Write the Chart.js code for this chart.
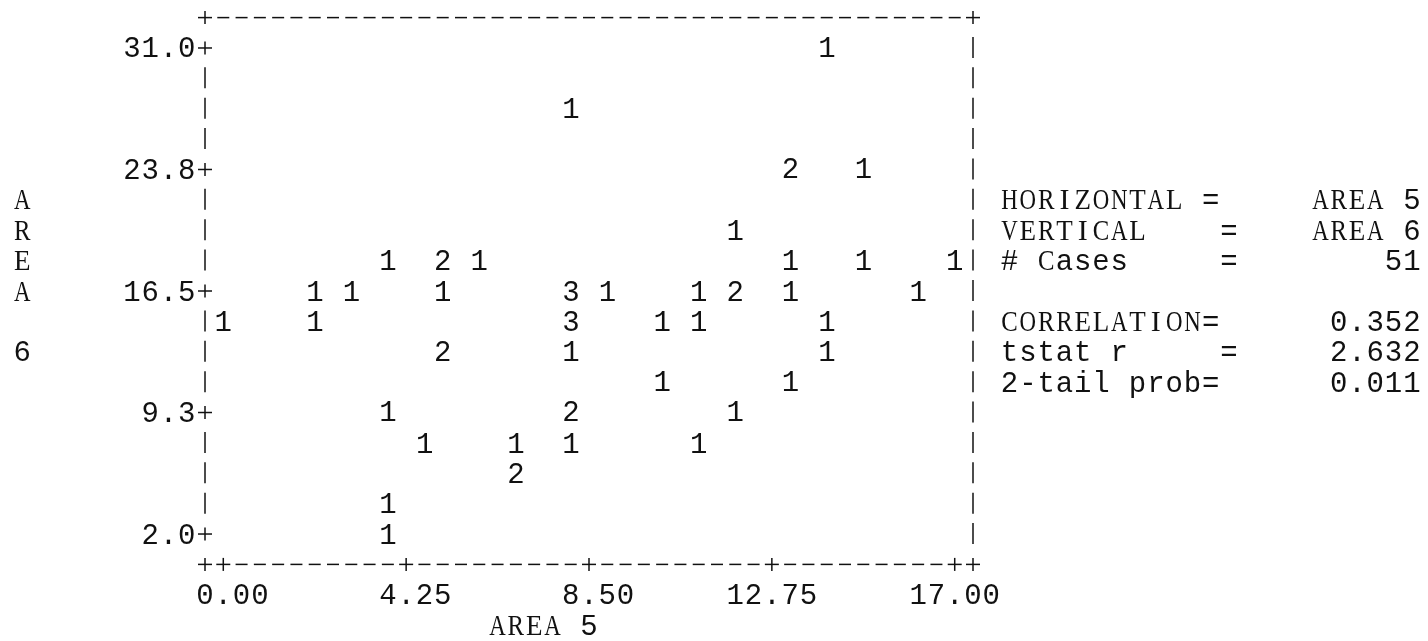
<!DOCTYPE html>
<html>
<head>
<meta charset="utf-8">
<script src="https://cdn.jsdelivr.net/npm/chart.js@4/dist/chart.umd.min.js"></script>
<style>
  html, body { margin: 0; padding: 0; background: #fff; }
  #wrap { width: 1428px; height: 641px; }
</style>
</head>
<body>
<div id="wrap"><canvas id="plot" width="1428" height="641"></canvas></div>
<script>
// one entry per printed cell: AREA 5, AREA 6 and the number of cases in that cell
const area5 = [14.03, 8.08, 13.18, 14.88, 11.9,
  3.83, 5.1, 5.95, 13.18, 14.88, 17.0,
  2.13, 2.98, 5.1, 8.08, 8.93, 11.05, 11.9, 13.18, 16.15,
  0.0, 2.13, 8.08, 10.2, 11.05, 14.03,
  5.1, 8.08, 14.03,
  10.2, 13.18,
  3.83, 8.08, 11.9,
  4.68, 6.8, 8.08, 11.05,
  6.8, 3.83, 3.83];
const area6 = [31.0, 27.4, 23.8, 23.8, 20.1,
  18.3, 18.3, 18.3, 18.3, 18.3, 18.3,
  16.5, 16.5, 16.5, 16.5, 16.5, 16.5, 16.5, 16.5, 16.5,
  14.7, 14.7, 14.7, 14.7, 14.7, 14.7,
  12.9, 12.9, 12.9,
  11.1, 11.1,
  9.3, 9.3, 9.3,
  7.4, 7.4, 7.4, 7.4,
  5.6, 3.8, 2.0];
const counts = [1, 1, 2, 1, 1,
  1, 2, 1, 1, 1, 1,
  1, 1, 1, 3, 1, 1, 2, 1, 1,
  1, 1, 3, 1, 1, 1,
  2, 1, 1,
  1, 1,
  1, 2, 1,
  1, 1, 1, 1,
  2, 1, 1];

const xTicks = [0, 4.25, 8.5, 12.75, 17];
const xTickLabels = ['0.00', '4.25', '8.50', '12.75', '17.00'];
const yTicks = [31, 23.75, 16.5, 9.25, 2];
const yTickLabels = ['31.0', '23.8', '16.5', '9.3', '2.0'];

const statLabels = ['HORIZONTAL =', 'VERTICAL    =', '# Cases     =', 'CORRELATION=', 'tstat r     =', '2-tail prob='];
const statValues = ['AREA 5', 'AREA 6', '51', '0.352', '2.632', '0.011'];

const xTitle = 'AREA 5';
const yTitle = 'AREA 6';

// the plot is a character grid: 40 columns across, 16 lines down
const xStep = 17 / 40;
const yStep = 29 / 16;
const ink = '#111';

// capitals in a serif face (like the old line printer), the rest monospaced
function glyph(ctx, ch, x, y) {
  if (ch === ' ') return;
  const serif = /[A-Z]/.test(ch);
  ctx.font = serif ? '30px "Liberation Serif"' : '29px "Liberation Mono"';
  const w = ctx.measureText(ch).width;
  if (serif && w > 16.5) {
    ctx.save();
    ctx.translate(x, y + 9.5);
    ctx.scale(16.5 / w, 1);
    ctx.fillText(ch, 0, 0);
    ctx.restore();
  } else {
    ctx.fillText(ch, x, y + 9.5);
  }
}

const asciiPlot = {
  id: 'asciiPlot',
  afterDraw(chart) {
    const ctx = chart.ctx;
    const sx = chart.scales.x, sy = chart.scales.y;
    const colX = c => sx.getPixelForValue((c - 1) * xStep);
    const rowY = r => sy.getPixelForValue(31 - (r - 1) * yStep);
    const text = (s, c, r) => { for (let i = 0; i < s.length; i++) glyph(ctx, s[i], colX(c + i), rowY(r)); };

    ctx.save();
    ctx.fillStyle = ink;
    ctx.strokeStyle = ink;
    ctx.lineWidth = 1.5;
    ctx.textAlign = 'center';
    ctx.textBaseline = 'alphabetic';

    const line = (x1, y1, x2, y2) => { ctx.beginPath(); ctx.moveTo(x1, y1); ctx.lineTo(x2, y2); ctx.stroke(); };
    const dash = (x, y) => line(x - 6, y, x + 6, y);
    const bar = (x, y) => line(x, y - 11, x, y + 10);
    const plus = (x, y) => { line(x - 7, y, x + 7, y); line(x, y - 6.5, x, y + 6.5); };

    // frame
    const xTickCols = xTicks.map(v => Math.round(v / xStep) + 1);
    const yTickRows = yTicks.map(v => Math.round((31 - v) / yStep) + 1);
    plus(colX(0), rowY(0));
    plus(colX(42), rowY(0));
    plus(colX(0), rowY(18));
    plus(colX(42), rowY(18));
    for (let c = 1; c <= 41; c++) {
      dash(colX(c), rowY(0));
      if (xTickCols.includes(c)) plus(colX(c), rowY(18));
      else dash(colX(c), rowY(18));
    }
    for (let r = 1; r <= 17; r++) {
      if (yTickRows.includes(r)) plus(colX(0), rowY(r));
      else bar(colX(0), rowY(r));
      bar(colX(42), rowY(r));
    }

    // tick labels
    yTicks.forEach((v, i) => {
      const s = yTickLabels[i];
      text(s, -s.length, yTickRows[i]);
    });
    xTicks.forEach((v, i) => {
      const s = xTickLabels[i];
      text(s, xTickCols[i] - s.indexOf('.'), 19);
    });

    // axis titles
    text(xTitle, 16, 20);
    const vt = yTitle.replace(' ', '');
    for (let i = 0; i < 4; i++) text(vt[i], -10, 6 + i);
    text(vt[4], -10, 11);

    // statistics block
    const statRows = [6, 7, 8, 10, 11, 12];
    statLabels.forEach((s, i) => {
      text(s, 44, statRows[i]);
      text(statValues[i], 67 - statValues[i].length, statRows[i]);
    });

    // cell counts at each point
    const meta = chart.getDatasetMeta(0);
    meta.data.forEach((pt, i) => glyph(ctx, String(counts[i]), pt.x, pt.y));
    ctx.restore();
  }
};

new Chart(document.getElementById('plot'), {
  type: 'scatter',
  data: {
    datasets: [{
      data: area5.map((v, i) => ({ x: v, y: area6[i] })),
      pointRadius: 0,
      pointHoverRadius: 0
    }]
  },
  options: {
    responsive: false,
    animation: false,
    layout: { padding: { left: 205, right: 455, top: 17.6, bottom: 76.6 } },
    scales: {
      x: { type: 'linear', display: false, min: -xStep, max: 17 + xStep },
      y: { type: 'linear', display: false, min: 2 - yStep, max: 31 + yStep }
    },
    plugins: { legend: { display: false }, tooltip: { enabled: false } }
  },
  plugins: [asciiPlot]
});
</script>
</body>
</html>
